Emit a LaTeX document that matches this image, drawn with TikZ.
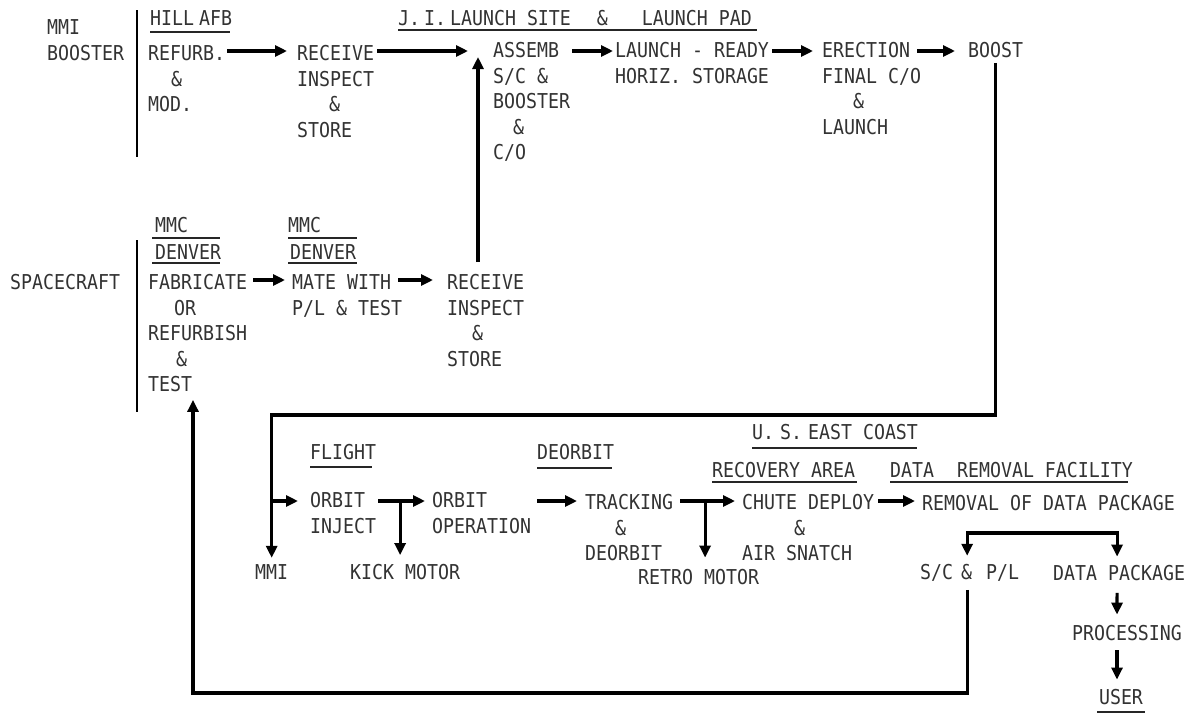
\documentclass[tikz,border=0pt]{standalone}
\usepackage{fontspec}
\setmainfont{DejaVu Sans Mono}[FakeStretch=0.89]
\usetikzlibrary{arrows.meta}
\begin{document}
\begin{tikzpicture}[x=1pt,y=-1pt,
  txt/.style={inner sep=0pt, align=left, font=\fontsize{20.5}{25.5}\selectfont, text=black!80},
  arr/.style={line width=3.2pt, -{Triangle[length=12pt,width=11pt]}},
  arrtwo/.style={line width=3.2pt, {Triangle[length=12pt,width=11pt]}-{Triangle[length=12pt,width=11pt]}},
  bar/.style={line width=2.8pt},
  ul/.style={line width=1.8pt, black!85}]
\fill[white] (0,0) rectangle (1200,713);
\useasboundingbox (0,0) rectangle (1200,713);

% helper rows
\coordinate (row1) at (0,51);
\coordinate (row2) at (0,280);
\coordinate (row3) at (0,501);
\coordinate (loopy) at (0,415);
\coordinate (fbk) at (0,693);
\coordinate (spl) at (0,533);

% ---------- top row ----------
\node[txt,anchor=north west] (mmi) at (47,19.5) {MMI\\BOOSTER};
\draw[bar] (137,10) -- (137,157);
\node[txt,anchor=west] (hill) at (150,18) {HILL\hspace{5pt}AFB};
\draw[ul] (150,32) -- (230,32);
\node[txt,anchor=north west] (refurb) at (148,45.5) {REFURB.\\\hspace*{23pt}\&\\MOD.};
\node[txt,anchor=north west] (recv1) at (297,45.5) {RECEIVE\\INSPECT\\\hspace*{32pt}\&\\STORE};
\node[txt,anchor=west] (jil) at (398,18) {J.\hspace{4pt}I.\hspace{4pt}LAUNCH~SITE\hspace{26pt}\&\hspace{34pt}LAUNCH~PAD};
\draw[ul] (398,30) -- (757,30);
\node[txt,anchor=north west] (assemb) at (493,42.5) {ASSEMB\\S/C~\&\\BOOSTER\\\hspace*{20pt}\&\\C/O};
\node[txt,anchor=north west] (lrdy) at (615,42.5) {LAUNCH~-~READY\\HORIZ.~STORAGE};
\node[txt,anchor=north west] (erect) at (822,42.5) {ERECTION\\FINAL~C/O\\\hspace*{31pt}\&\\LAUNCH};
\node[txt,anchor=west] (boost) at (968,50) {BOOST};

% ---------- middle row ----------
\node[txt,anchor=west] (spacecraft) at (10,282) {SPACECRAFT};
\draw[bar] (137,240) -- (137,412);
\node[txt,anchor=west] (mmc1) at (155,225) {MMC};
\node[txt,anchor=west] (den1) at (155,252) {DENVER};
\draw[ul] (152,238) -- (220,238);
\draw[ul] (152,263) -- (220,263);
\node[txt,anchor=north west] (fab) at (148,274.5) {FABRICATE\\\hspace*{26pt}OR\\REFURBISH\\\hspace*{28pt}\&\\TEST};
\node[txt,anchor=west] (mmc2) at (288,225) {MMC};
\node[txt,anchor=west] (den2) at (290,252) {DENVER};
\draw[ul] (288,238) -- (357,238);
\draw[ul] (288,263) -- (357,263);
\node[txt,anchor=north west] (mate) at (292,274.5) {MATE~WITH\\P/L~\&~TEST};
\node[txt,anchor=north west] (recv2) at (447,274.5) {RECEIVE\\INSPECT\\\hspace*{25pt}\&\\STORE};

% ---------- bottom row ----------
\node[txt,anchor=west] (flight) at (310,452) {FLIGHT};
\draw[ul] (310,467) -- (372,467);
\node[txt,anchor=west] (deorbh) at (537,452) {DEORBIT};
\draw[ul] (537,468) -- (612,468);
\node[txt,anchor=west] (usec) at (752,432) {U.\hspace{6pt}S.\hspace{6pt}EAST~COAST};
\draw[ul] (752,448) -- (917,448);
\node[txt,anchor=west] (recov) at (712,470) {RECOVERY~AREA};
\draw[ul] (712,482) -- (857,482);
\node[txt,anchor=west] (drf) at (890,470) {DATA\hspace{23pt}REMOVAL~FACILITY};
\draw[ul] (890,482) -- (1128,482);
\node[txt,anchor=north west] (oinj) at (310,492.5) {ORBIT\\INJECT};
\node[txt,anchor=north west] (oop) at (432,492.5) {ORBIT\\OPERATION};
\node[txt,anchor=north west] (track) at (585,494.5) {TRACKING\\\hspace*{30pt}\&\\DEORBIT};
\node[txt,anchor=north west] (chute) at (742,494.5) {CHUTE~DEPLOY\\\hspace*{52pt}\&\\AIR~SNATCH};
\node[txt,anchor=west] (rodp) at (922,503) {REMOVAL~OF~DATA~PACKAGE};
\node[txt,anchor=west] (mmi2) at (255,572) {MMI};
\node[txt,anchor=west] (kick) at (350,572) {KICK~MOTOR};
\node[txt,anchor=west] (retro) at (638,577) {RETRO~MOTOR};
\node[txt,anchor=west] (scpl) at (920,573) {S/C\hspace{8pt}\&\hspace{14pt}P/L};
\node[txt,anchor=west] (dpk) at (1053,573) {DATA~PACKAGE};
\node[txt] (proc) at (1127,633) {PROCESSING};
\node[txt] (user) at (1121,697) {USER};
\draw[ul] (1097,712) -- (1145,712);

% ---------- connectors: top ----------
\draw[arr] ([xshift=2pt]refurb.east |- row1) -- ([xshift=-10pt]recv1.west |- row1);
\draw[arr] ([xshift=3pt]recv1.east |- row1) -- ([xshift=-25pt]assemb.west |- row1);
\draw[arr] ([xshift=2pt]assemb.east |- row1) -- ([xshift=-2pt]lrdy.west |- row1);
\draw[arr] ([xshift=3pt]lrdy.east |- row1) -- ([xshift=-9pt]erect.west |- row1);
\draw[arr] ([xshift=95pt]erect.west |- row1) -- ([xshift=-13pt]boost.west |- row1);
% boost loop to MMI
\coordinate (bA) at ([yshift=-5pt]boost.south);
\draw[arr] (bA) -- (bA |- loopy) -| ([yshift=6.5pt]mmi2.north);
\draw[arr] (mmi2.north |- row3) -- ([xshift=-12pt]oinj.west |- row3);

% ---------- connectors: middle ----------
\draw[arr] ([xshift=6pt]fab.east |- row2) -- ([xshift=-7pt]mate.west |- row2);
\draw[arr] ([xshift=-4pt]mate.east |- row2) -- ([xshift=-14pt]recv2.west |- row2);
\draw[arr] ([xshift=31pt,yshift=12.5pt]recv2.north west) -- ([xshift=-15pt,yshift=-14.5pt]assemb.north west);

% ---------- connectors: bottom ----------
\draw[arr] ([xshift=2pt]oinj.east |- row3) -- ([xshift=-7pt]oop.west |- row3);
\draw[arr] ([xshift=-5pt]kick.north |- row3) -- ([xshift=-5pt,yshift=9pt]kick.north);
\draw[arr] ([xshift=6pt]oop.east |- row3) -- ([xshift=-8pt]track.west |- row3);
\draw[arr] ([xshift=7pt]track.east |- row3) -- ([xshift=-7pt]chute.west |- row3);
\draw[arr] ([xshift=6.5pt]retro.north |- row3) -- ([xshift=6.5pt,yshift=11.5pt]retro.north);
\draw[arr] ([xshift=4pt]chute.east |- row3) -- ([xshift=-7pt]rodp.west |- row3);
% split to S/C & P/L and DATA PACKAGE
\coordinate (sA) at ([xshift=-2.5pt,yshift=8.5pt]scpl.north);
\coordinate (sB) at ([xshift=-2pt,yshift=8.5pt]dpk.north);
\draw[arrtwo] (sA) -- (sA |- spl) -- (sB |- spl) -- (sB);
\draw[arr] ([xshift=-2pt,yshift=-12pt]dpk.south) -- ([xshift=-10pt,yshift=10.5pt]proc.north);
\draw[arr] ([xshift=-10pt,yshift=-9.5pt]proc.south) -- ([xshift=-4pt,yshift=9.5pt]user.north);
% feedback to spacecraft fabrication
\coordinate (fbA) at ([xshift=-2.5pt,yshift=-8pt]scpl.south);
\draw[arr] (fbA) -- (fbA |- fbk) -| ([xshift=45pt,yshift=-7.5pt]fab.south west);
\end{tikzpicture}
\end{document}
